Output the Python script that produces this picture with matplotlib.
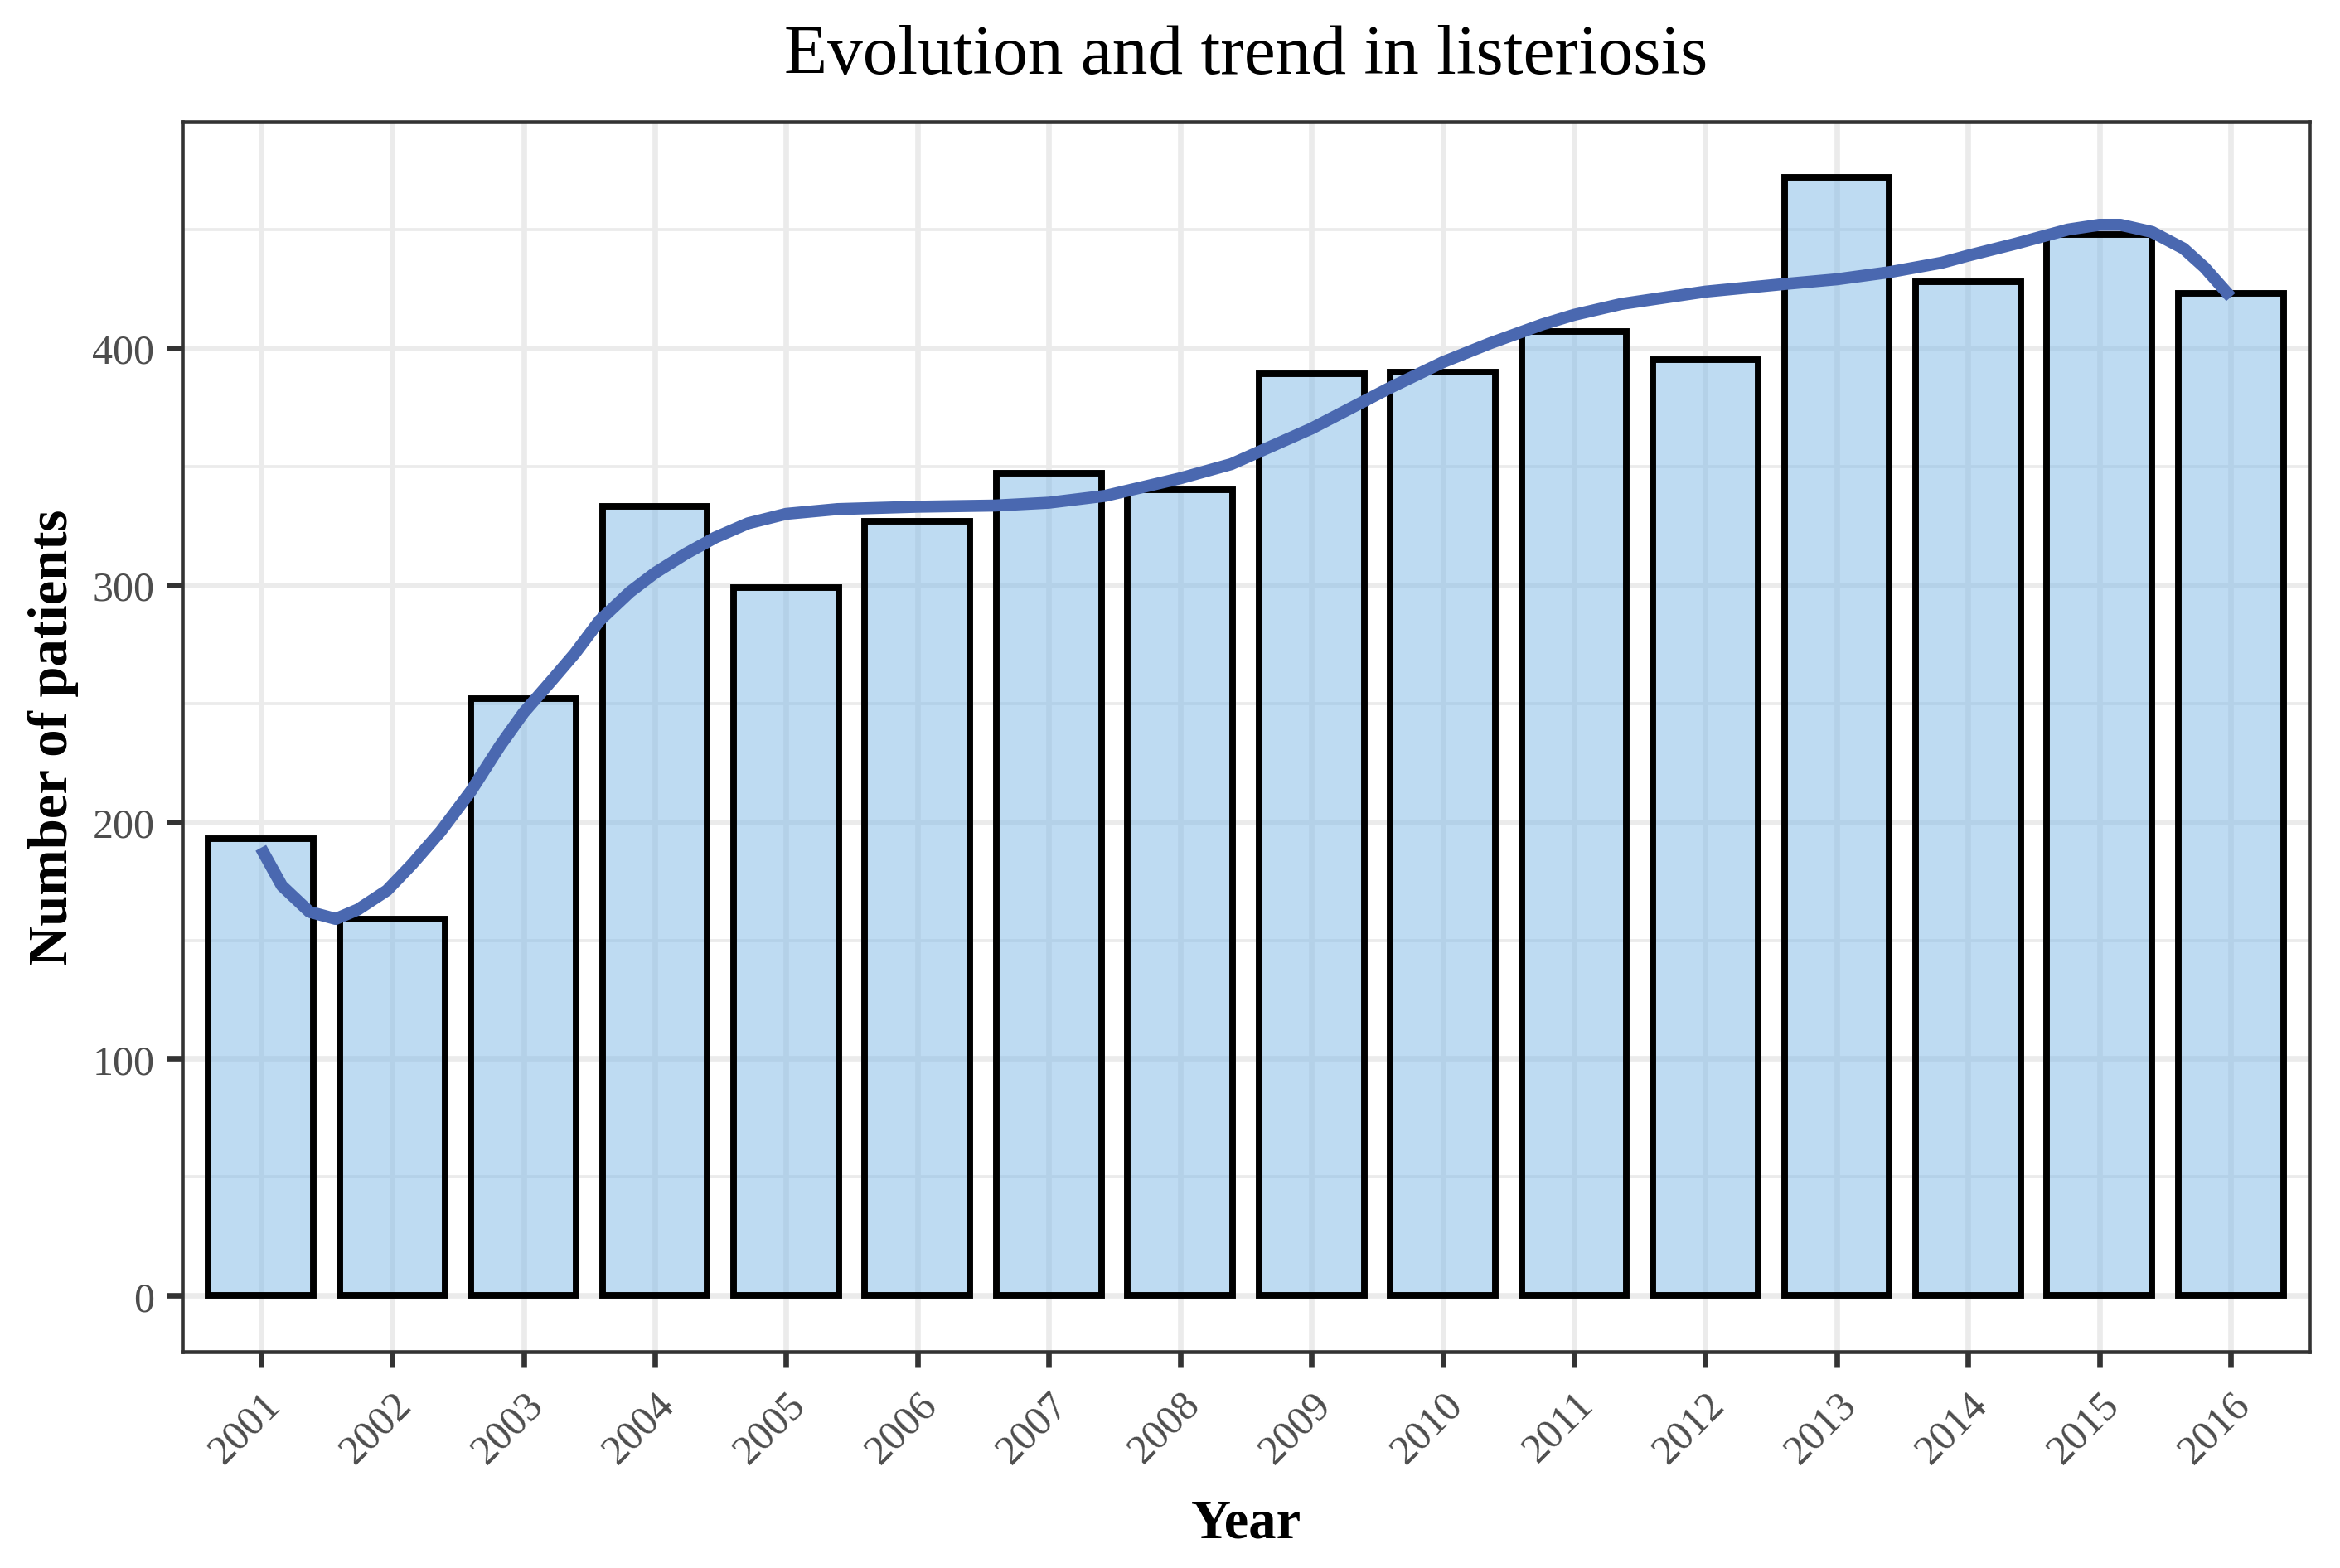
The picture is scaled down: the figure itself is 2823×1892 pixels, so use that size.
import matplotlib
matplotlib.use("Agg")
import matplotlib.pyplot as plt
from matplotlib.ticker import MultipleLocator

plt.rcParams["font.family"] = ["Liberation Serif", "DejaVu Serif"]

# data
years = ["2001", "2002", "2003", "2004", "2005", "2006", "2007", "2008",
         "2009", "2010", "2011", "2012", "2013", "2014", "2015", "2016"]
patients = [193, 159, 252, 333, 299, 327, 347, 340,
            389, 390, 407, 395, 472, 428, 448, 423]

# smoothed trend (x in years)
trend_year = [2001.00, 2001.16, 2001.37, 2001.57, 2001.74, 2001.96, 2002.15, 2002.37,
              2002.60, 2002.82, 2003.00, 2003.22, 2003.39, 2003.58, 2003.81, 2004.00,
              2004.23, 2004.46, 2004.71, 2005.00, 2005.39, 2006.00, 2006.59, 2007.00,
              2007.43, 2008.00, 2008.39, 2009.00, 2009.59, 2010.00, 2010.36, 2010.76,
              2011.00, 2011.36, 2012.00, 2012.60, 2013.00, 2013.40, 2013.80, 2014.00,
              2014.36, 2014.76, 2015.00, 2015.16, 2015.40, 2015.64, 2015.80, 2016.00]
trend_value = [189, 173, 162, 159, 163, 171, 182, 196,
               213, 232, 246, 260, 271, 285, 297, 305,
               313, 320, 326, 330, 332, 333, 333.5, 334.7,
               337.6, 345, 351, 366, 383, 394, 402, 410,
               414, 418.6, 423.8, 427, 429, 432, 436, 439,
               444, 450, 452, 452, 449, 442, 434, 421.5]

grid_col = "#EBEBEB"
dark = "#333333"

fig = plt.figure(figsize=(2823 / 300, 1893 / 300), dpi=300)
ax = fig.add_axes([0.0778, 0.138, 0.9092, 0.784])

pos = list(range(len(years)))
ax.bar(pos, patients, width=0.8, color="#7FB8E6", alpha=0.5,
       edgecolor="none", zorder=3)
ax.bar(pos, patients, width=0.8, facecolor="none",
       edgecolor="black", linewidth=1.9, zorder=4)

first = int(years[0])
ax.plot([y - first for y in trend_year], trend_value, color="#4A68B0",
        linewidth=3.5, solid_capstyle="butt", solid_joinstyle="round", zorder=5)

ax.set_xlim(-0.6, len(years) - 0.4)
ax.set_ylim(-23.6, 495.6)

ax.set_xticks(pos)
ax.set_xticklabels(years, rotation=45, ha="right", va="top",
                   rotation_mode="anchor", fontsize=12, color="#4D4D4D")
ax.yaxis.set_major_locator(MultipleLocator(100))
ax.yaxis.set_minor_locator(MultipleLocator(50))
ax.tick_params(axis="y", which="major", labelsize=12, labelcolor="#4D4D4D", pad=3.5)
ax.tick_params(which="major", length=4.5, width=1.6, color=dark)
ax.tick_params(which="minor", length=0)
ax.tick_params(axis="x", pad=5)

ax.grid(True, which="major", color=grid_col, linewidth=1.6, zorder=0)
ax.grid(True, which="minor", axis="y", color=grid_col, linewidth=0.9, zorder=0)
ax.set_axisbelow(True)

for side in ax.spines.values():
    side.set_color(dark)
    side.set_linewidth(1.1)

ax.set_xlabel("Year", fontsize=16, fontweight="bold", labelpad=8)
ax.set_ylabel("Number of patients", fontsize=16, fontweight="bold", labelpad=4)
ax.set_title("Evolution and trend in listeriosis", fontsize=20.5, pad=14)

fig.savefig("out.png", dpi=300)
